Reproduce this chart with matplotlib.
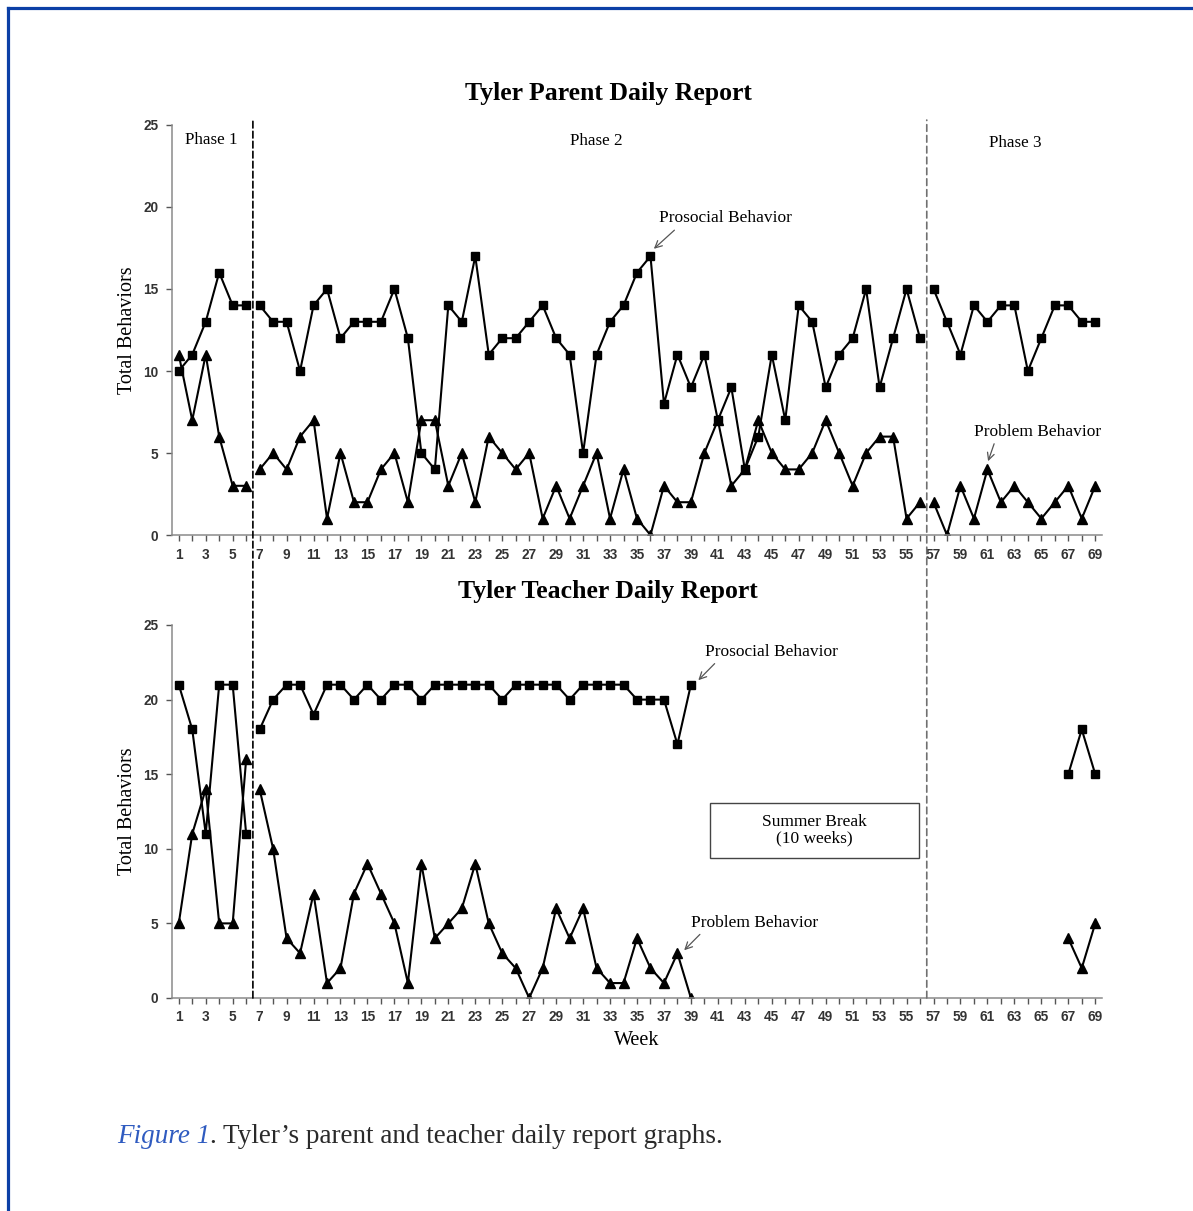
import numpy as np
import matplotlib
matplotlib.use('Agg')
import matplotlib.pyplot as plt
from matplotlib.patches import ConnectionPatch, Rectangle
from matplotlib.lines import Line2D

nan = np.nan

weeks = np.arange(1, 70)
odd_week_labels = [str(w) if w % 2 == 1 else '' for w in weeks]
y_ticks = [0, 5, 10, 15, 20, 25]

# phase boundaries (first and last week of each phase)
phases = [(1, 6), (7, 56), (57, 69)]
phase_names = ['Phase 1', 'Phase 2', 'Phase 3']

parent_prosocial = [10, 11, 13, 16, 14, 14,
                    14, 13, 13, 10, 14, 15, 12, 13, 13, 13,
                    15, 12, 5, 4, 14, 13, 17, 11, 12, 12,
                    13, 14, 12, 11, 5, 11, 13, 14, 16, 17,
                    8, 11, 9, 11, 7, 9, 4, 6, 11, 7,
                    14, 13, 9, 11, 12, 15, 9, 12, 15, 12,
                    15, 13, 11, 14, 13, 14, 14, 10, 12, 14, 14, 13, 13]
parent_problem = [11, 7, 11, 6, 3, 3,
                  4, 5, 4, 6, 7, 1, 5, 2, 2, 4,
                  5, 2, 7, 7, 3, 5, 2, 6, 5, 4,
                  5, 1, 3, 1, 3, 5, 1, 4, 1, 0,
                  3, 2, 2, 5, 7, 3, 4, 7, 5, 4,
                  4, 5, 7, 5, 3, 5, 6, 6, 1, 2,
                  2, 0, 3, 1, 4, 2, 3, 2, 1, 2, 3, 1, 3]
summer = [nan] * 27  # weeks 40-66, no teacher reports
teacher_prosocial = ([21, 18, 11, 21, 21, 11,
                      18, 20, 21, 21, 19, 21, 21, 20, 21, 20,
                      21, 21, 20, 21, 21, 21, 21, 21, 20, 21,
                      21, 21, 21, 20, 21, 21, 21, 21, 20, 20,
                      20, 17, 21] + summer + [15, 18, 15])
teacher_problem = ([5, 11, 14, 5, 5, 16,
                    14, 10, 4, 3, 7, 1, 2, 7, 9, 7,
                    5, 1, 9, 4, 5, 6, 9, 5, 3, 2,
                    0, 2, 6, 4, 6, 2, 1, 1, 4, 2,
                    1, 3, 0] + summer + [4, 2, 5])

SERIF = 'Liberation Serif'
TICK_FONT = {'family': 'Liberation Sans', 'weight': 'bold', 'size': 9.8}
axis_gray = '#8a8a8a'


def draw_series(ax, values, marker, ms):
    vals = np.array(values, dtype=float)
    for start, end in phases:
        sel = (weeks >= start) & (weeks <= end)
        ax.plot(weeks[sel], vals[sel], color='black', lw=1.5,
                marker=marker, ms=ms, mfc='black', mec='black')


def style_axes(ax, ylabel='Total Behaviors'):
    ax.set_xlim(0.5, 69.5)
    ax.set_ylim(0, 25)
    for side in ['top', 'right']:
        ax.spines[side].set_visible(False)
    for side in ['left', 'bottom']:
        ax.spines[side].set_color(axis_gray)
        ax.spines[side].set_linewidth(1.1)
    ax.set_xticks(weeks)
    ax.set_xticklabels(odd_week_labels, fontdict=TICK_FONT, color='#333333')
    ax.set_yticks(y_ticks)
    ax.set_yticklabels([str(v) for v in y_ticks], fontdict=TICK_FONT, color='#333333')
    ax.tick_params(axis='x', direction='out', length=4, width=1, color='#555555', pad=5)
    ax.tick_params(axis='y', direction='out', length=4, width=1, color='#555555', pad=6)
    ax.set_ylabel(ylabel, family=SERIF, fontsize=14.5, labelpad=4)


def note(ax, text, xy, xytext, relx):
    ax.annotate(text, xy=xy, xytext=xytext, ha='left', va='center',
                family=SERIF, fontsize=12.5,
                arrowprops=dict(arrowstyle='->', color='#555555', lw=0.9,
                                relpos=(relx, 0), shrinkA=1, shrinkB=0))


fig = plt.figure(figsize=(11.93, 12.11), dpi=100)
ax1 = fig.add_axes([0.1442, 0.5582, 0.7795, 0.3386])
ax2 = fig.add_axes([0.1442, 0.1759, 0.7795, 0.3080])

# parent report
draw_series(ax1, parent_prosocial, 's', 6.3)
draw_series(ax1, parent_problem, '^', 7.3)
style_axes(ax1)
phase_pos = [(3.45, 24.1), (32.0, 24.0), (63.1, 23.9)]
for name, (px, py) in zip(phase_names, phase_pos):
    ax1.text(px, py, name, ha='center', va='center', family=SERIF, fontsize=12.3)
note(ax1, 'Prosocial Behavior', (36.25, 17.45), (36.6, 19.3), 0.15)
note(ax1, 'Problem Behavior', (61.05, 4.5), (60.0, 6.3), 0.17)

# teacher report
draw_series(ax2, teacher_prosocial, 's', 6.3)
draw_series(ax2, teacher_problem, '^', 7.3)
style_axes(ax2)
ax2.set_xlabel('Week', family=SERIF, fontsize=14.5, labelpad=5)
note(ax2, 'Prosocial Behavior', (39.55, 21.3), (40.05, 23.2), 0.1)
note(ax2, 'Problem Behavior', (38.5, 3.2), (39.0, 5.05), 0.1)
ax2.add_patch(Rectangle((40.4, 9.4), 15.5, 3.7, fill=False, ec='#444444', lw=1.0))
ax2.text(48.15, 11.25, 'Summer Break\n(10 weeks)', ha='center', va='center',
         family=SERIF, fontsize=12.5, linespacing=1.05)

# phase change lines spanning both panels
for wk, col, dash in [(6.5, 'black', (4, 2)), (56.5, '#707070', (4, 2.5))]:
    con = ConnectionPatch(xyA=(wk, 0), coordsA=ax2.transData,
                          xyB=(wk, 25.3), coordsB=ax1.transData,
                          color=col, lw=1.2, linestyle=(0, dash))
    fig.add_artist(con)

# titles
fig.text(0.5096, 0.9232, 'Tyler Parent Daily Report', ha='center', va='center',
         family=SERIF, fontsize=18.5, fontweight='bold')
fig.text(0.5096, 0.5112, 'Tyler Teacher Daily Report', ha='center', va='center',
         family=SERIF, fontsize=18.5, fontweight='bold')

# caption
cap = fig.text(0.098, 0.0562, 'Figure 1', ha='left', va='baseline',
               family=SERIF, fontsize=19.5, style='italic', color='#2f5bc0')
ax1.annotate('. Tyler\u2019s parent and teacher daily report graphs.', xy=(1, 0),
             xycoords=cap, ha='left', va='bottom', family=SERIF,
             fontsize=19.5, color='#2a2a2a', annotation_clip=False)

# page border (top and left)
fig.add_artist(Line2D([0.0063, 1.0], [0.9934, 0.9934], transform=fig.transFigure,
                      color='#0b3fa6', lw=2.3))
fig.add_artist(Line2D([0.0063, 0.0063], [0.0, 0.9934], transform=fig.transFigure,
                      color='#0b3fa6', lw=2.3))

fig.savefig('out.png', dpi=100)
